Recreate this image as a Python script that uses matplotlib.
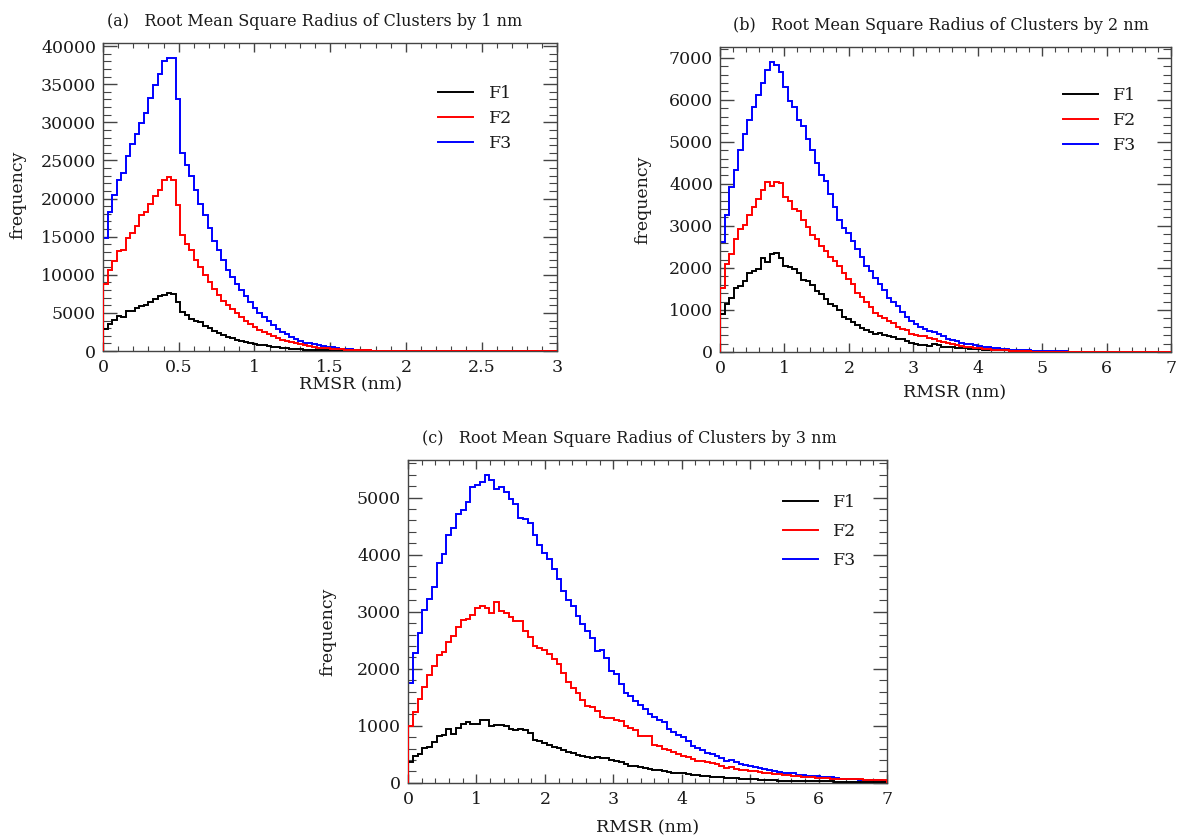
import numpy as np
import matplotlib
matplotlib.use("Agg")
import matplotlib.pyplot as plt
from matplotlib.lines import Line2D
from matplotlib.ticker import MultipleLocator

plt.rcParams['font.family'] = ['DejaVu Serif']

# bin counts, 100 bins per panel
f1_a = [2900, 3500, 4100, 4600, 4500, 5200, 5200, 5600, 5900, 6100,
        6400, 6800, 7200, 7400, 7600, 7500, 6500, 5100, 4700, 4200,
        4000, 3800, 3300, 3000, 2700, 2400, 2150, 1900, 1700, 1520,
        1350, 1200, 1060, 950, 850, 740, 650, 570, 500, 430,
        370, 320, 270, 230, 200, 170, 140, 120, 100, 85,
        70, 60, 50, 40, 35, 30, 25, 20, 15, 12,
        10, 8, 6, 5, 4, 3, 2, 2, 1, 1,
        0, 0, 0, 0, 0, 0, 0, 0, 0, 0,
        0, 0, 0, 0, 0, 0, 0, 0, 0, 0,
        0, 0, 0, 0, 0, 0, 0, 0, 0, 0]
f2_a = [8800, 10600, 11800, 13100, 13300, 14800, 15500, 16400, 17800, 18300,
        19300, 20400, 21100, 22400, 22800, 22400, 19200, 15200, 14100, 13300,
        12000, 11000, 10000, 9000, 8100, 7300, 6600, 6100, 5500, 4950,
        4500, 4000, 3600, 3180, 2830, 2480, 2220, 1960, 1740, 1520,
        1350, 1180, 1000, 870, 740, 650, 520, 440, 400, 350,
        300, 260, 220, 190, 160, 140, 120, 100, 85, 70,
        60, 50, 40, 30, 25, 20, 15, 10, 8, 5,
        4, 3, 2, 2, 1, 1, 1, 1, 0, 0,
        0, 0, 0, 0, 0, 0, 0, 0, 0, 0,
        0, 0, 0, 0, 0, 0, 0, 0, 0, 0]
f3_a = [14800, 18300, 20500, 22500, 23300, 25600, 27100, 28500, 29900, 31200,
        33200, 34900, 36400, 38100, 38400, 38500, 33100, 26000, 24400, 22900,
        21100, 19300, 17800, 16200, 14500, 13200, 11900, 10600, 9700, 8800,
        8000, 7200, 6450, 5700, 5000, 4500, 3920, 3400, 2960, 2520,
        2180, 1870, 1610, 1350, 1130, 1000, 870, 760, 650, 560,
        480, 400, 330, 270, 220, 180, 145, 120, 100, 80,
        65, 52, 42, 34, 27, 21, 16, 12, 9, 6,
        4, 3, 2, 2, 1, 1, 1, 0, 0, 0,
        0, 0, 0, 0, 0, 0, 0, 0, 0, 0,
        0, 0, 0, 0, 0, 0, 0, 0, 0, 0]

f1_b = [895, 1150, 1280, 1520, 1560, 1700, 1890, 1930, 1970, 2240,
        2140, 2320, 2360, 2240, 2050, 2030, 1980, 1890, 1710, 1700,
        1600, 1460, 1390, 1250, 1150, 1090, 1000, 840, 790, 720,
        650, 570, 530, 475, 430, 450, 400, 375, 360, 300,
        320, 270, 225, 200, 165, 165, 140, 180, 160, 125,
        110, 125, 100, 90, 85, 75, 70, 65, 55, 50,
        47, 45, 40, 35, 30, 25, 20, 15, 12, 10,
        8, 5, 4, 3, 2, 1, 1, 0, 0, 0,
        0, 0, 0, 0, 0, 0, 0, 0, 0, 0,
        0, 0, 0, 0, 0, 0, 0, 0, 0, 0]
f2_b = [1520, 2100, 2320, 2680, 2920, 3030, 3270, 3460, 3640, 3850,
        4050, 3950, 4050, 4010, 3680, 3590, 3410, 3350, 3150, 2980,
        2790, 2680, 2530, 2410, 2260, 2160, 2050, 1870, 1740, 1620,
        1410, 1310, 1180, 1070, 920, 850, 800, 730, 690, 600,
        555, 520, 435, 400, 375, 390, 330, 300, 260, 240,
        225, 190, 165, 140, 125, 110, 95, 85, 75, 65,
        55, 48, 42, 36, 30, 25, 20, 16, 12, 9,
        7, 5, 4, 3, 2, 2, 1, 1, 0, 0,
        0, 0, 0, 0, 0, 0, 0, 0, 0, 0,
        0, 0, 0, 0, 0, 0, 0, 0, 0, 0]
f3_b = [2610, 3250, 3930, 4340, 4810, 5180, 5510, 5840, 6110, 6400,
        6700, 6910, 6830, 6650, 6310, 5960, 5820, 5530, 5380, 5070,
        4810, 4500, 4210, 4070, 3760, 3460, 3140, 2940, 2840, 2650,
        2440, 2260, 2050, 1930, 1770, 1620, 1480, 1290, 1200, 1090,
        960, 830, 740, 670, 590, 540, 500, 470, 430, 375,
        320, 295, 255, 220, 200, 180, 155, 140, 125, 110,
        95, 85, 70, 60, 55, 45, 40, 38, 35, 30,
        27, 25, 22, 20, 18, 15, 12, 10, 8, 6,
        5, 3, 2, 1, 0, 0, 0, 0, 0, 0,
        0, 0, 0, 0, 0, 0, 0, 0, 0, 0]

f1_c = [360, 470, 510, 610, 630, 720, 820, 840, 950, 850,
        970, 1030, 1070, 1040, 1030, 1100, 1100, 990, 1010, 1010,
        990, 950, 920, 950, 930, 880, 760, 730, 700, 660,
        620, 610, 570, 540, 530, 490, 470, 450, 430, 450,
        440, 430, 400, 380, 360, 330, 300, 290, 280, 260,
        250, 230, 220, 200, 190, 180, 175, 165, 150, 140,
        135, 125, 115, 110, 100, 95, 90, 85, 80, 75,
        70, 65, 60, 55, 50, 45, 45, 40, 40, 38,
        35, 35, 32, 30, 30, 28, 27, 25, 25, 24,
        23, 22, 22, 21, 20, 20, 19, 18, 18, 17]
f2_c = [990, 1240, 1470, 1680, 1890, 2050, 2240, 2290, 2470, 2580,
        2730, 2860, 2880, 2950, 3060, 3100, 3060, 2970, 3170, 3010,
        2970, 2900, 2840, 2840, 2670, 2550, 2390, 2370, 2320, 2250,
        2170, 2090, 1920, 1760, 1660, 1570, 1450, 1350, 1330, 1260,
        1160, 1130, 1130, 1100, 1090, 1000, 970, 920, 830, 820,
        820, 670, 640, 600, 580, 540, 510, 470, 450, 420,
        390, 380, 365, 350, 335, 290, 260, 275, 250, 230,
        220, 210, 200, 190, 180, 170, 160, 150, 140, 130,
        120, 120, 110, 100, 95, 90, 85, 80, 75, 70,
        70, 65, 65, 60, 60, 55, 55, 50, 50, 45]
f3_c = [1750, 2280, 2620, 3030, 3220, 3430, 3850, 4010, 4340, 4460,
        4710, 4790, 4920, 5180, 5220, 5280, 5390, 5300, 5150, 5180,
        5100, 4970, 4890, 4650, 4630, 4550, 4350, 4170, 4030, 3920,
        3750, 3570, 3370, 3200, 3100, 2920, 2780, 2660, 2540, 2310,
        2320, 2190, 1960, 1900, 1740, 1570, 1520, 1440, 1370, 1300,
        1200, 1150, 1100, 1070, 940, 900, 840, 810, 740, 650,
        610, 580, 520, 510, 470, 440, 380, 400, 360, 330,
        320, 290, 270, 260, 240, 220, 200, 190, 180, 170,
        170, 140, 130, 125, 120, 115, 105, 100, 95, 85,
        75, 70, 65, 60, 55, 50, 50, 45, 45, 40]

labels = ["F1", "F2", "F3"]
colors = ["black", "#ff0000", "#0000ff"]

panels = [
    dict(data=(f1_a, f2_a, f3_a), xmax=3, xmaj=0.5, xmin=0.1, ymaj=5000, ymin=1000,
         title="(a)   Root Mean Square Radius of Clusters by 1 nm",
         rect=[0.0873, 0.582, 0.385, 0.367], tx=0.465,
         xl=(0.546, -0.082), yl=(-0.168, 0.506), leg=(0.738, 0.862), lsp=0.45),
    dict(data=(f1_b, f2_b, f3_b), xmax=7, xmaj=1, xmin=0.2, ymaj=1000, ymin=200,
         title="(b)   Root Mean Square Radius of Clusters by 2 nm",
         rect=[0.6102, 0.581, 0.3822, 0.363], tx=0.49,
         xl=(0.52, -0.105), yl=(-0.152, 0.5), leg=(0.76, 0.868), lsp=0.45),
    dict(data=(f1_c, f2_c, f3_c), xmax=7, xmaj=1, xmin=0.2, ymaj=1000, ymin=200,
         title="(c)   Root Mean Square Radius of Clusters by 3 nm",
         rect=[0.3458, 0.068, 0.4059, 0.3845], tx=0.463,
         xl=(0.50, -0.113), yl=(-0.15, 0.467), leg=(0.783, 0.893), lsp=0.68),
]

fig = plt.figure(figsize=(11.8, 8.4), dpi=100)
frame = "#444444"
text_c = "#1a1a1a"

for p in panels:
    ax = fig.add_axes(p["rect"])
    f1, f2, f3 = p["data"]
    edges = np.linspace(0, p["xmax"], len(f1) + 1)
    # F3 first, F2 last so the red zero line sits on top like the original
    ax.stairs(f3, edges, color=colors[2], lw=1.4, zorder=2)
    ax.stairs(f1, edges, color=colors[0], lw=1.4, zorder=3)
    ax.stairs(f2, edges, color=colors[1], lw=1.4, zorder=4)

    ymax = 1.05 * max(max(f1), max(f2), max(f3))
    ax.set_xlim(0, p["xmax"])
    ax.set_ylim(0, ymax)

    ax.xaxis.set_major_locator(MultipleLocator(p["xmaj"]))
    ax.xaxis.set_minor_locator(MultipleLocator(p["xmin"]))
    ax.yaxis.set_major_locator(MultipleLocator(p["ymaj"]))
    ax.yaxis.set_minor_locator(MultipleLocator(p["ymin"]))
    ax.xaxis.set_major_formatter(plt.FuncFormatter(lambda v, pos: "%g" % v))

    for s in ax.spines.values():
        s.set_color(frame)
        s.set_linewidth(1.0)
    ax.tick_params(axis="both", which="both", direction="in", top=True, right=True,
                   colors=frame, labelcolor=text_c, labelsize=12.5)
    ax.tick_params(axis="x", which="major", length=6.5, width=1.0, pad=6)
    ax.tick_params(axis="x", which="minor", length=3.5, width=0.8)
    ax.tick_params(axis="y", which="major", length=10, width=1.0, pad=5)
    ax.tick_params(axis="y", which="minor", length=5.5, width=0.8)

    ax.set_title(p["title"], x=p["tx"], fontsize=11.5, color=text_c, pad=12)
    ax.set_xlabel("RMSR (nm)", fontsize=12.5, color=text_c)
    ax.set_ylabel("frequency", fontsize=12.5, color=text_c)
    ax.xaxis.set_label_coords(*p["xl"])
    ax.yaxis.set_label_coords(*p["yl"])

    handles = [Line2D([], [], color=c, lw=1.4) for c in colors]
    ax.legend(handles, labels, loc="upper left", bbox_to_anchor=p["leg"],
              frameon=False, fontsize=12.5, handlelength=2.0, handletextpad=0.9,
              labelspacing=p["lsp"], borderpad=0, borderaxespad=0,
              labelcolor=text_c)

fig.savefig("out.png", dpi=100)
